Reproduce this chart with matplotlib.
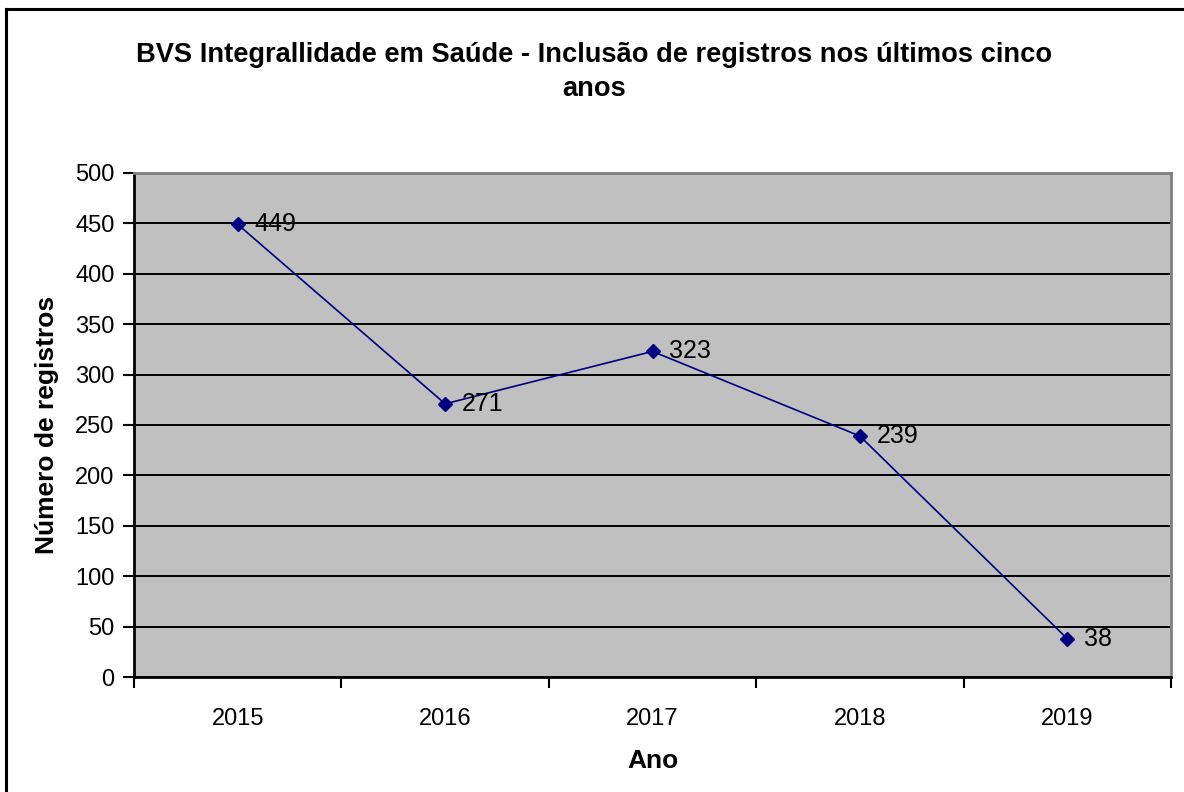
import matplotlib

matplotlib.use('agg')
import matplotlib.pyplot as plt
from matplotlib.lines import Line2D

plt.rcParams['font.family'] = ['Liberation Sans', 'DejaVu Sans']

# data
years = ['2015', '2016', '2017', '2018', '2019']
registros = [449, 271, 323, 239, 38]
y_ticks = [0, 50, 100, 150, 200, 250, 300, 350, 400, 450, 500]

navy = '#000080'

fig = plt.figure(figsize=(11.84, 7.92), dpi=100)
ax = fig.add_axes([0.1132, 0.1452, 0.989 - 0.1132, 0.7816 - 0.1452])
ax.set_facecolor('#C0C0C0')

x = list(range(len(years)))
ax.plot(x, registros, color=navy, linewidth=1.2, marker='D', markersize=7,
        markerfacecolor=navy, markeredgecolor=navy, zorder=3)

for xi, v in zip(x, registros):
  ax.annotate(str(v), (xi, v), xytext=(12, 0), textcoords='offset points',
              ha='left', va='center', fontsize=18, zorder=4)

#axes and grid
ax.set_xlim(-0.5, len(years) - 0.5)
ax.set_ylim(0, 500)
ax.set_yticks(y_ticks)
ax.yaxis.grid(True, color='black', linewidth=1.4)
ax.set_axisbelow(True)

ax.set_xticks([i - 0.5 for i in range(len(years) + 1)])
ax.set_xticklabels([])
ax.set_xticks(x, minor=True)
ax.set_xticklabels(years, minor=True)
ax.tick_params(axis='x', which='minor', length=0, pad=22, labelsize=17)
ax.tick_params(axis='x', which='major', direction='out', length=8, width=1.5)
ax.tick_params(axis='y', direction='out', length=8, width=1.5, pad=6,
               labelsize=17)

for side in ['left', 'bottom']:
  ax.spines[side].set_color('black')
  ax.spines[side].set_linewidth(2)
for side in ['top', 'right']:
  ax.spines[side].set_color('#808080')
  ax.spines[side].set_linewidth(2)

ax.set_xlabel('Ano', fontsize=19, fontweight='bold', labelpad=14)
ax.set_ylabel('Número de registros', fontsize=19, fontweight='bold',
              labelpad=12)

fig.text(0.502, 0.931,
         'BVS Integrallidade em Saúde - Inclusão de registros nos últimos cinco',
         ha='center', va='center', fontsize=19.6, fontweight='bold')
fig.text(0.502, 0.887, 'anos', ha='center', va='center', fontsize=19.6,
         fontweight='bold')

#chart border
fig.add_artist(Line2D([6 / 1184, 1], [1 - 9 / 792, 1 - 9 / 792],
                      color='black', linewidth=2.2,
                      transform=fig.transFigure))
fig.add_artist(Line2D([6 / 1184, 6 / 1184], [0, 1 - 9 / 792],
                      color='black', linewidth=2.2,
                      transform=fig.transFigure))

fig.savefig('out.png', dpi=100)
